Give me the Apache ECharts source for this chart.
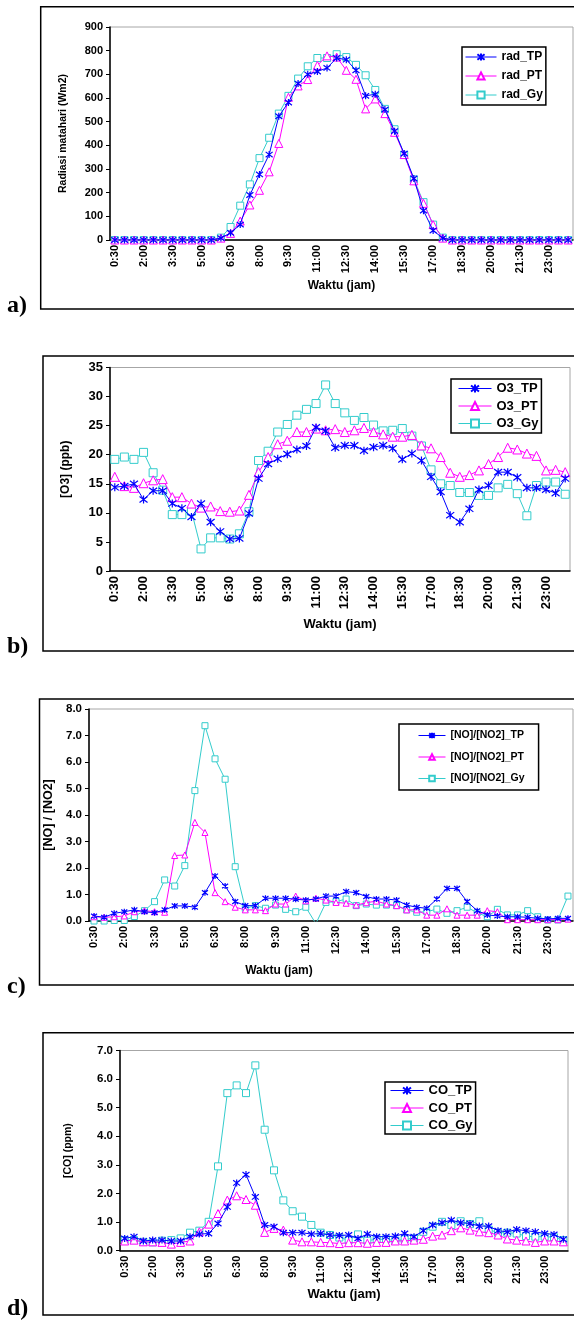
<!DOCTYPE html>
<html>
<head>
<meta charset="utf-8">
<title></title>
<script src="https://cdn.jsdelivr.net/npm/echarts@6/dist/echarts.min.js"></script>
<style>
  html,body{margin:0;padding:0;background:#fff;}
  #main{width:574px;height:1320px;}
</style>
</head>
<body>
<div id="main"></div>
<script type="text/javascript">
    // jam pengukuran (setengah jam)
    var waktu = ['0:30','1:00','1:30','2:00','2:30','3:00','3:30','4:00','4:30','5:00','5:30','6:00',
        '6:30','7:00','7:30','8:00','8:30','9:00','9:30','10:00','10:30','11:00','11:30','12:00',
        '12:30','13:00','13:30','14:00','14:30','15:00','15:30','16:00','16:30','17:00','17:30','18:00',
        '18:30','19:00','19:30','20:00','20:30','21:00','21:30','22:00','22:30','23:00','23:30','24:00'];

    // a) radiasi matahari
    var rad_TP = [0,0,0,0,0,0,0,0,0,0,0,8,30,65,190,277,361,523,581,661,700,712,727,769,
        762,717,609,616,551,460,365,260,124,40,8,0,0,0,0,0,0,0,0,0,0,0,0,0];
    var rad_PT = [0,0,0,0,0,0,0,0,0,0,0,8,28,80,148,210,288,408,603,651,678,738,778,773,
        717,679,554,596,534,455,361,250,155,65,8,0,0,0,0,0,0,0,0,0,0,0,0,0];
    var rad_Gy = [0,0,0,0,0,0,0,0,0,0,0,10,55,145,235,346,432,534,609,682,734,769,769,785,
        773,740,696,634,554,468,360,256,160,65,10,0,0,0,0,0,0,0,0,0,0,0,0,0];

    // b) ozon
    var O3_TP = [14.4,14.6,15.0,12.3,13.8,13.8,11.6,10.8,9.3,11.6,8.4,6.8,5.5,5.6,9.9,15.9,18.4,19.3,20.1,20.9,21.5,24.7,24.1,21.2,
        21.6,21.6,20.7,21.3,21.6,21.1,19.2,20.2,19.0,16.2,13.6,9.6,8.4,10.7,14.0,14.7,17.0,17.0,16.1,14.3,14.3,14.0,13.4,15.9];
    var O3_PT = [16.2,14.6,14.3,15.1,15.6,15.8,12.7,12.7,11.6,10.9,11.1,10.3,10.2,10.4,13.1,17.0,19.6,21.8,22.4,23.9,23.9,24.5,24.2,24.4,
        23.9,24.2,24.6,23.9,23.5,23.1,23.1,23.4,21.6,21.1,19.6,16.9,16.2,16.5,17.3,18.4,19.6,21.2,20.9,20.2,19.8,17.3,17.4,17.0];
    var O3_Gy = [19.2,19.6,19.2,20.4,16.9,13.9,9.7,9.7,10.3,3.8,5.7,5.7,5.5,6.4,10.2,19.0,20.6,23.9,25.2,26.8,27.8,28.8,32.0,28.8,
        27.2,25.9,26.4,25.1,24.1,24.2,24.5,23.2,21.5,17.4,15.0,14.7,13.5,13.5,13.0,13.0,14.3,14.9,13.3,9.5,14.7,15.3,15.3,13.2];

    // c) rasio NO/NO2
    var rasio_TP = [0.19,0.14,0.29,0.35,0.42,0.35,0.31,0.42,0.57,0.57,0.52,1.07,1.70,1.32,0.73,0.58,0.58,0.86,0.86,0.86,0.82,0.79,0.83,0.94,
        0.94,1.11,1.07,0.92,0.83,0.83,0.79,0.60,0.52,0.48,0.83,1.23,1.23,0.73,0.39,0.23,0.19,0.16,0.16,0.14,0.10,0.08,0.10,0.10];
    var rasio_PT = [0.16,0.14,0.16,0.19,0.35,0.39,0.35,0.33,2.47,2.49,3.72,3.34,1.07,0.73,0.52,0.42,0.42,0.39,0.64,0.64,0.94,0.76,0.86,0.79,
        0.70,0.67,0.60,0.69,0.75,0.64,0.58,0.42,0.42,0.22,0.22,0.46,0.22,0.22,0.22,0.39,0.35,0.05,0.05,0.05,0.05,0.05,0.05,0.07];
    var rasio_Gy = [0.0,0.0,0.02,0.02,0.17,0.39,0.73,1.55,1.32,2.09,4.92,7.37,6.12,5.35,2.05,0.48,0.58,0.48,0.60,0.44,0.35,0.52,-0.1,0.70,
        0.73,0.83,0.58,0.64,0.60,0.60,0.58,0.42,0.33,0.35,0.45,0.29,0.39,0.52,0.31,0.16,0.44,0.23,0.23,0.39,0.16,0.04,0.04,0.94];

    // d) karbon monoksida
    var CO_TP = [0.43,0.49,0.34,0.37,0.37,0.34,0.34,0.49,0.58,0.60,0.95,1.53,2.37,2.66,1.88,0.90,0.84,0.63,0.63,0.63,0.58,0.60,0.55,0.53,
        0.55,0.43,0.58,0.49,0.49,0.51,0.60,0.49,0.70,0.90,0.98,1.07,0.98,0.95,0.86,0.86,0.70,0.66,0.74,0.70,0.66,0.60,0.57,0.40];
    var CO_PT = [0.34,0.37,0.31,0.31,0.29,0.23,0.29,0.34,0.66,0.93,1.30,1.77,1.92,1.79,1.59,0.64,0.78,0.72,0.37,0.31,0.31,0.29,0.28,0.25,
        0.28,0.28,0.26,0.29,0.29,0.34,0.34,0.37,0.40,0.51,0.55,0.70,0.80,0.72,0.66,0.63,0.55,0.41,0.37,0.34,0.29,0.34,0.34,0.31];
    var CO_Gy = [0.37,0.37,0.31,0.29,0.35,0.37,0.43,0.63,0.70,1.01,2.95,5.51,5.78,5.51,6.48,4.23,2.81,1.76,1.38,1.19,0.90,0.63,0.55,0.46,
        0.37,0.57,0.35,0.40,0.40,0.35,0.40,0.43,0.66,0.84,1.01,0.90,1.03,0.93,1.03,0.74,0.63,0.63,0.60,0.51,0.49,0.49,0.47,0.37];

    var FONT = 'Liberation Sans, Arial, sans-serif';
    var WARNA = ['#0000ff', '#ff00ff', '#33cccc'];
    var BINTANG = 'path://M0,0L10,10M10,0L0,10M5,-1.5L5,11.5';

    var panels = [
        {
            grid: {left: 110, top: 27, width: 463, height: 213},
            yMax: 900, yInt: 100, dec: 0, yName: 'Radiasi matahari (Wm2)', yNameSize: 10.5, yNameGap: 41, yLabelSize: 11,
            xLabelSize: 11, xNameSize: 12, xNameGap: 40, xNamePad: [0, 0, 0, 0],
            names: ['rad_TP', 'rad_PT', 'rad_Gy'], data: [rad_TP, rad_PT, rad_Gy], sym: [7, 8, 7],
            legend: {left: 462, top: 47, padding: [4, 3, 4, 3], itemWidth: 31, itemHeight: 9, itemGap: 7, fontSize: 12},
            frame: [40.7, 6.7, 302.3], tag: ['a)', 306]
        },
        {
            grid: {left: 110, top: 367.5, width: 460, height: 203.5},
            yMax: 35, yInt: 5, dec: 0, yName: '[O3] (ppb)', yNameSize: 12, yNameGap: 38, yLabelSize: 13,
            xLabelSize: 13, xNameSize: 13, xNameGap: 47, xNamePad: [0, 0, 0, 0],
            names: ['O3_TP', 'O3_PT', 'O3_Gy'], data: [O3_TP, O3_PT, O3_Gy], sym: [8, 9, 8],
            legend: {left: 451, top: 379, padding: [3, 3, 3, 7], itemWidth: 33, itemHeight: 10, itemGap: 4.5, fontSize: 13},
            frame: [43, 356, 295], tag: ['b)', 647]
        },
        {
            grid: {left: 89, top: 709, width: 484, height: 212},
            yMax: 8, yInt: 1, dec: 1, yName: '[NO] / [NO2]', yNameSize: 12.5, yNameGap: 32, yLabelSize: 11.5,
            xLabelSize: 11, xNameSize: 12, xNameGap: 44, xNamePad: [0, 104, 0, 0],
            names: ['[NO]/[NO2]_TP', '[NO]/[NO2]_PT', '[NO]/[NO2]_Gy'], data: [rasio_TP, rasio_PT, rasio_Gy], sym: [6, 6, 6],
            legend: {left: 399, top: 724, padding: [6, 14, 6, 19], itemWidth: 27, itemHeight: 7, itemGap: 10.5, fontSize: 10.5},
            frame: [39.5, 699, 286], tag: ['c)', 987]
        },
        {
            grid: {left: 120, top: 1050.5, width: 448, height: 200.2},
            yMax: 7, yInt: 1, dec: 1, yName: '[CO] (ppm)', yNameSize: 10.5, yNameGap: 46, yLabelSize: 11.5,
            xLabelSize: 11, xNameSize: 13, xNameGap: 37, xNamePad: [0, 0, 0, 0],
            names: ['CO_TP', 'CO_PT', 'CO_Gy'], data: [CO_TP, CO_PT, CO_Gy], sym: [7, 8, 7],
            legend: {left: 385, top: 1082, padding: [2, 3, 2, 5], itemWidth: 33, itemHeight: 10, itemGap: 4.5, fontSize: 13},
            frame: [43, 1032.7, 282.3], tag: ['d)', 1309]
        }
    ];

    var grids = [], xAxes = [], yAxes = [], series = [], legends = [], graphics = [];

    panels.forEach(function (p, i) {
        grids.push({
            left: p.grid.left, top: p.grid.top, width: p.grid.width, height: p.grid.height,
            show: true, borderColor: '#a6a6a6', borderWidth: 1, backgroundColor: 'transparent'
        });
        xAxes.push({
            gridIndex: i, type: 'category', data: waktu, boundaryGap: true,
            name: 'Waktu (jam)', nameLocation: 'middle', nameGap: p.xNameGap,
            nameTextStyle: {fontFamily: FONT, fontWeight: 'bold', fontSize: p.xNameSize, color: '#000', padding: p.xNamePad},
            axisLine: {lineStyle: {color: '#000', width: 1.5}},
            axisTick: {interval: 0, length: 4, lineStyle: {color: '#000'}},
            axisLabel: {interval: 2, rotate: 90, margin: 5, fontFamily: FONT, fontWeight: 'bold', fontSize: p.xLabelSize, color: '#000'},
            splitLine: {show: false}
        });
        yAxes.push({
            gridIndex: i, type: 'value', min: 0, max: p.yMax, interval: p.yInt,
            name: p.yName, nameLocation: 'middle', nameRotate: 90, nameGap: p.yNameGap,
            nameTextStyle: {fontFamily: FONT, fontWeight: 'bold', fontSize: p.yNameSize, color: '#000'},
            axisLine: {show: true, lineStyle: {color: '#000', width: 1.5}},
            axisTick: {show: true, length: 4, lineStyle: {color: '#000'}},
            axisLabel: {
                margin: 7, fontFamily: FONT, fontWeight: 'bold', fontSize: p.yLabelSize, color: '#000',
                formatter: function (v) { return v.toFixed(p.dec); }
            },
            splitLine: {show: false}
        });
        var simbol = [BINTANG, 'triangle', 'rect'];
        p.names.forEach(function (nm, k) {
            series.push({
                name: nm, type: 'line', xAxisIndex: i, yAxisIndex: i,
                data: p.data[k],
                symbol: simbol[k], symbolSize: p.sym[k], showAllSymbol: true,
                lineStyle: {color: WARNA[k], width: 1},
                itemStyle: k === 0
                    ? {color: WARNA[k], borderColor: WARNA[k], borderWidth: 1.2}
                    : {color: '#fff', borderColor: WARNA[k], borderWidth: 1},
                z: 3 - k,
                clip: true
            });
        });
        legends.push({
            data: p.names, orient: 'vertical', selectedMode: false,
            left: p.legend.left, top: p.legend.top, padding: p.legend.padding,
            itemWidth: p.legend.itemWidth, itemHeight: p.legend.itemHeight, itemGap: p.legend.itemGap,
            lineStyle: {width: 1},
            backgroundColor: '#fff', borderColor: '#000', borderWidth: 1.5,
            textStyle: {fontFamily: FONT, fontWeight: 'bold', fontSize: p.legend.fontSize, color: '#000'}
        });
        graphics.push({
            type: 'rect', shape: {x: p.frame[0], y: p.frame[1], width: 700, height: p.frame[2]},
            style: {fill: 'none', stroke: '#000', lineWidth: 1.5}, z: -1
        });
        graphics.push({
            type: 'text', x: 7, y: p.tag[1],
            style: {text: p.tag[0], font: 'bold 24px "Liberation Serif", "Times New Roman", serif', fill: '#000', verticalAlign: 'middle'}
        });
    });

    var myChart = echarts.init(document.getElementById('main'));
    myChart.setOption({
        animation: false,
        backgroundColor: '#fff',
        grid: grids,
        xAxis: xAxes,
        yAxis: yAxes,
        legend: legends,
        series: series,
        graphic: graphics
    });

    window.addEventListener('resize', function () {
        myChart.resize();
    });
</script>
</body>
</html>
